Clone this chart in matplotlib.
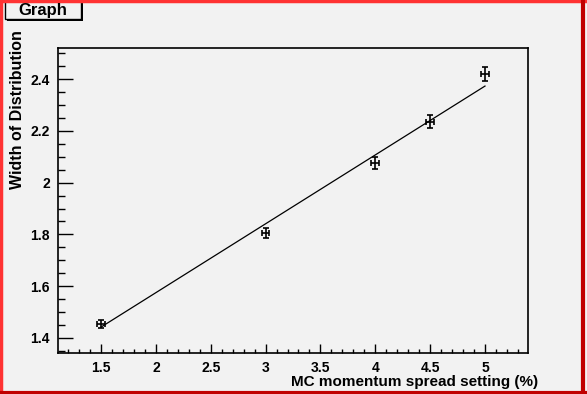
import matplotlib
matplotlib.use("Agg")
import matplotlib.pyplot as plt
from matplotlib.patches import Rectangle
from matplotlib.lines import Line2D
from matplotlib.ticker import MultipleLocator, FuncFormatter

plt.rcParams['font.family'] = ['Liberation Sans', 'DejaVu Sans']
plt.rcParams['font.weight'] = 'bold'

# data
spread = [1.5, 3.0, 4.0, 4.5, 5.0]
width = [1.454, 1.805, 2.076, 2.235, 2.420]
width_err = [0.016, 0.020, 0.024, 0.025, 0.026]
spread_err = [0.035, 0.035, 0.035, 0.035, 0.035]

# straight-line fit as drawn in the picture
fit_x = [1.5, 5.0]
fit_y = [1.442, 2.373]

bg = "#f2f2f2"
W, H = 587, 394

fig = plt.figure(figsize=(W / 100, H / 100), dpi=100, facecolor=bg)
ax = fig.add_axes([58 / W, 1 - 353 / H, 470 / W, 305 / H], facecolor=bg)

ax.plot(fit_x, fit_y, color="black", lw=0.9)
ax.errorbar(spread, width, yerr=width_err, xerr=spread_err, fmt="none",
            ecolor="black", elinewidth=1.2, capsize=2.5, capthick=1.2)

ax.set_xlim(1.108, 5.392)
ax.set_ylim(1.342, 2.52)

ax.xaxis.set_major_locator(MultipleLocator(0.5))
ax.xaxis.set_minor_locator(MultipleLocator(0.1))
ax.yaxis.set_major_locator(MultipleLocator(0.2))
ax.yaxis.set_minor_locator(MultipleLocator(0.05))
ax.xaxis.set_major_formatter(FuncFormatter(lambda v, p: f"{v:g}"))
ax.yaxis.set_major_formatter(FuncFormatter(lambda v, p: f"{v:g}"))

ax.tick_params(axis="x", which="major", direction="in", length=6.2, width=1, pad=6, labelsize=10)
ax.tick_params(axis="x", which="minor", direction="in", length=3, width=1)
ax.tick_params(axis="y", which="major", direction="in", length=10.5, width=1, pad=6, labelsize=10)
ax.tick_params(axis="y", which="minor", direction="in", length=5.2, width=1)
for s in ax.spines.values():
    s.set_linewidth(1.2)

fig.text(538 / W, 1 - 382 / H, "MC momentum spread setting (%)", fontsize=11,
         ha="right", va="center")
fig.text(18 / W, 1 - 30 / H, "Width of Distribution", fontsize=11.5,
         ha="center", va="top", rotation=90)

# "Graph" title box with shadow
fig.patches.append(Rectangle((7 / W, 1 - 21 / H), 76 / W, 21 / H, transform=fig.transFigure,
                             facecolor="black", edgecolor="none"))
fig.patches.append(Rectangle((5 / W, 1 - 19 / H), 76 / W, 21 / H, transform=fig.transFigure,
                             facecolor=bg, edgecolor="black", lw=1))
fig.text(43 / W, 1 - 10 / H, "Graph", ha="center", va="center", fontsize=12)

# window border
fig.lines.append(Line2D([0, 1], [1 - 1 / H, 1 - 1 / H], transform=fig.transFigure, color="#ff3333", lw=2.5))
fig.lines.append(Line2D([1 / W, 1 / W], [0, 1], transform=fig.transFigure, color="#ff3333", lw=2.5))
fig.lines.append(Line2D([0, 1], [1.5 / H, 1.5 / H], transform=fig.transFigure, color="#c00000", lw=3))
fig.lines.append(Line2D([1 - 4 / W, 1 - 4 / W], [0, 1], transform=fig.transFigure, color="#c00000", lw=3))

fig.savefig("out.png", dpi=100, facecolor=bg)
